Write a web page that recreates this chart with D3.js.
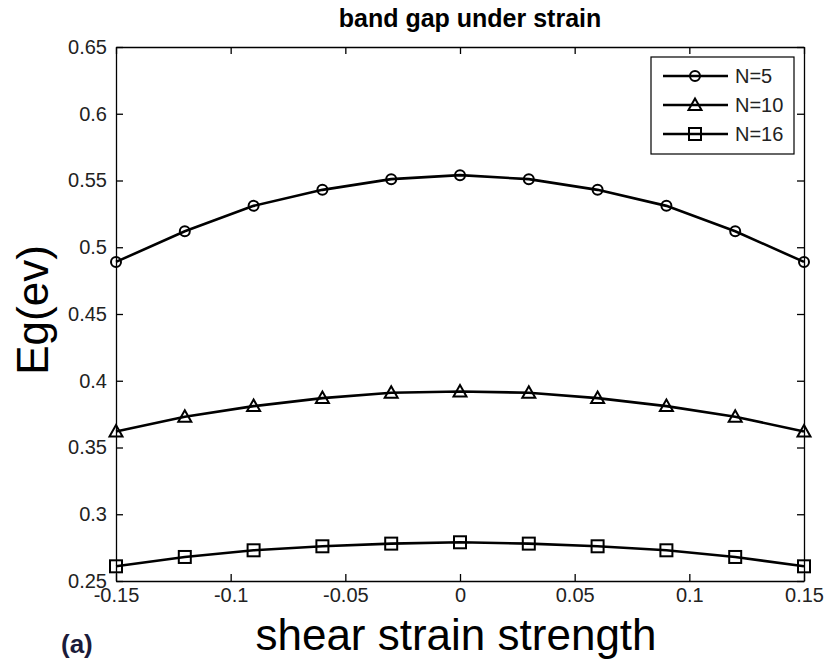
<!DOCTYPE html>
<html>
<head>
<meta charset="utf-8">
<script src="https://cdn.jsdelivr.net/npm/d3@7"></script>
<style>
  body { margin: 0; background: #fff; }
  text { font-family: Arial, "Liberation Sans", sans-serif; }
</style>
</head>
<body>
<div id="chart"></div>
<script>
var strain = [-0.15, -0.12, -0.09, -0.06, -0.03, 0, 0.03, 0.06, 0.09, 0.12, 0.15];
var gapN5  = [0.489, 0.512, 0.531, 0.543, 0.551, 0.554, 0.551, 0.543, 0.531, 0.512, 0.489];
var gapN10 = [0.362, 0.373, 0.381, 0.387, 0.391, 0.392, 0.391, 0.387, 0.381, 0.373, 0.362];
var gapN16 = [0.261, 0.268, 0.273, 0.276, 0.278, 0.279, 0.278, 0.276, 0.273, 0.268, 0.261];
var seriesNames = ["N=5", "N=10", "N=16"];
var seriesMarkers = ["circle", "triangle", "square"];
var xTicks = [-0.15, -0.1, -0.05, 0, 0.05, 0.1, 0.15];
var yTicks = [0.25, 0.3, 0.35, 0.4, 0.45, 0.5, 0.55, 0.6, 0.65];

var width = 827, height = 665;
var plotLeft = 116, plotRight = 804, plotTop = 47, plotBottom = 581;

var svg = d3.select("#chart").append("svg")
    .attr("width", width)
    .attr("height", height);

var x = d3.scaleLinear().domain([-0.15, 0.15]).range([plotLeft, plotRight]);
var y = d3.scaleLinear().domain([0.25, 0.65]).range([plotBottom, plotTop]);

var series = [gapN5, gapN10, gapN16].map((vals, i) => ({
    name: seriesNames[i],
    marker: seriesMarkers[i],
    points: vals.map((v, j) => ({x: strain[j], y: v}))
}));

// axes, ticks on all four sides pointing inward (matlab style labels, plain hyphen)
var fmt = d => String(+d.toFixed(2));
svg.append("g")
    .attr("transform", "translate(0," + plotBottom + ")")
    .call(d3.axisBottom(x).tickValues(xTicks).tickSizeInner(-7).tickSizeOuter(0).tickPadding(7).tickFormat(fmt))
    .call(g => g.selectAll("text").attr("font-size", 20).attr("fill", "#222"));
svg.append("g")
    .attr("transform", "translate(0," + plotTop + ")")
    .call(d3.axisTop(x).tickValues(xTicks).tickSizeInner(-7).tickSizeOuter(0).tickFormat(""));
svg.append("g")
    .attr("transform", "translate(" + plotLeft + ",0)")
    .call(d3.axisLeft(y).tickValues(yTicks).tickSizeInner(-7).tickSizeOuter(0).tickPadding(9).tickFormat(fmt))
    .call(g => g.selectAll("text").attr("font-size", 20).attr("fill", "#222"));
svg.append("g")
    .attr("transform", "translate(" + plotRight + ",0)")
    .call(d3.axisRight(y).tickValues(yTicks).tickSizeInner(-7).tickSizeOuter(0).tickFormat(""));
svg.selectAll(".domain").attr("stroke", "#000").attr("stroke-width", 1.3);
svg.selectAll(".tick line").attr("stroke", "#000").attr("stroke-width", 1.3);

function drawMarker(sel, kind) {
    if (kind == "circle") {
        sel.append("circle").attr("r", 5);
    } else if (kind == "triangle") {
        sel.append("path").attr("d", "M0,-6.5L6.5,5L-6.5,5Z");
    } else {
        sel.append("rect").attr("x", -6).attr("y", -6).attr("width", 12).attr("height", 12);
    }
    sel.selectAll("circle,path,rect")
        .attr("fill", "none").attr("stroke", "#000").attr("stroke-width", 2);
}

var line = d3.line().x(d => x(d.x)).y(d => y(d.y));

var g = svg.selectAll(".series")
    .data(series)
    .enter()
    .append("g")
    .attr("class", "series");

g.append("path")
    .attr("d", d => line(d.points))
    .attr("fill", "none")
    .attr("stroke", "#000")
    .attr("stroke-width", 2.6);

g.each(function(s) {
    d3.select(this).selectAll(".pt")
        .data(s.points)
        .enter()
        .append("g")
        .attr("class", "pt")
        .attr("transform", d => "translate(" + x(d.x) + "," + y(d.y) + ")")
        .each(function() { drawMarker(d3.select(this), s.marker); });
});

// legend
var legend = svg.append("g");
legend.append("rect")
    .attr("x", 651).attr("y", 57)
    .attr("width", 143).attr("height", 97)
    .attr("fill", "#fff").attr("stroke", "#000").attr("stroke-width", 1.2);

var item = legend.selectAll(".item")
    .data(series)
    .enter()
    .append("g")
    .attr("class", "item")
    .attr("transform", (d, i) => "translate(0," + (76 + i * 29) + ")");

item.append("line")
    .attr("x1", 663).attr("x2", 728)
    .attr("stroke", "#000").attr("stroke-width", 2.6);
item.append("g")
    .attr("transform", "translate(695,0)")
    .each(function(d) { drawMarker(d3.select(this), d.marker); });
item.append("text")
    .attr("x", 735).attr("dy", "0.35em")
    .attr("font-size", 20).attr("fill", "#222")
    .text(d => d.name);

// titles
svg.append("text")
    .attr("x", 470).attr("y", 27)
    .attr("text-anchor", "middle")
    .attr("font-size", 25).attr("font-weight", "bold")
    .text("band gap under strain");

svg.append("text")
    .attr("x", 456).attr("y", 650)
    .attr("text-anchor", "middle")
    .attr("font-size", 44)
    .text("shear strain strength");

svg.append("text")
    .attr("transform", "translate(48,310) rotate(-90)")
    .attr("text-anchor", "middle")
    .attr("font-size", 44)
    .text("Eg(ev)");

svg.append("text")
    .attr("x", 61).attr("y", 653)
    .attr("font-size", 26).attr("font-weight", "bold")
    .attr("fill", "#1b1b3a")
    .text("(a)");
</script>
</body>
</html>
